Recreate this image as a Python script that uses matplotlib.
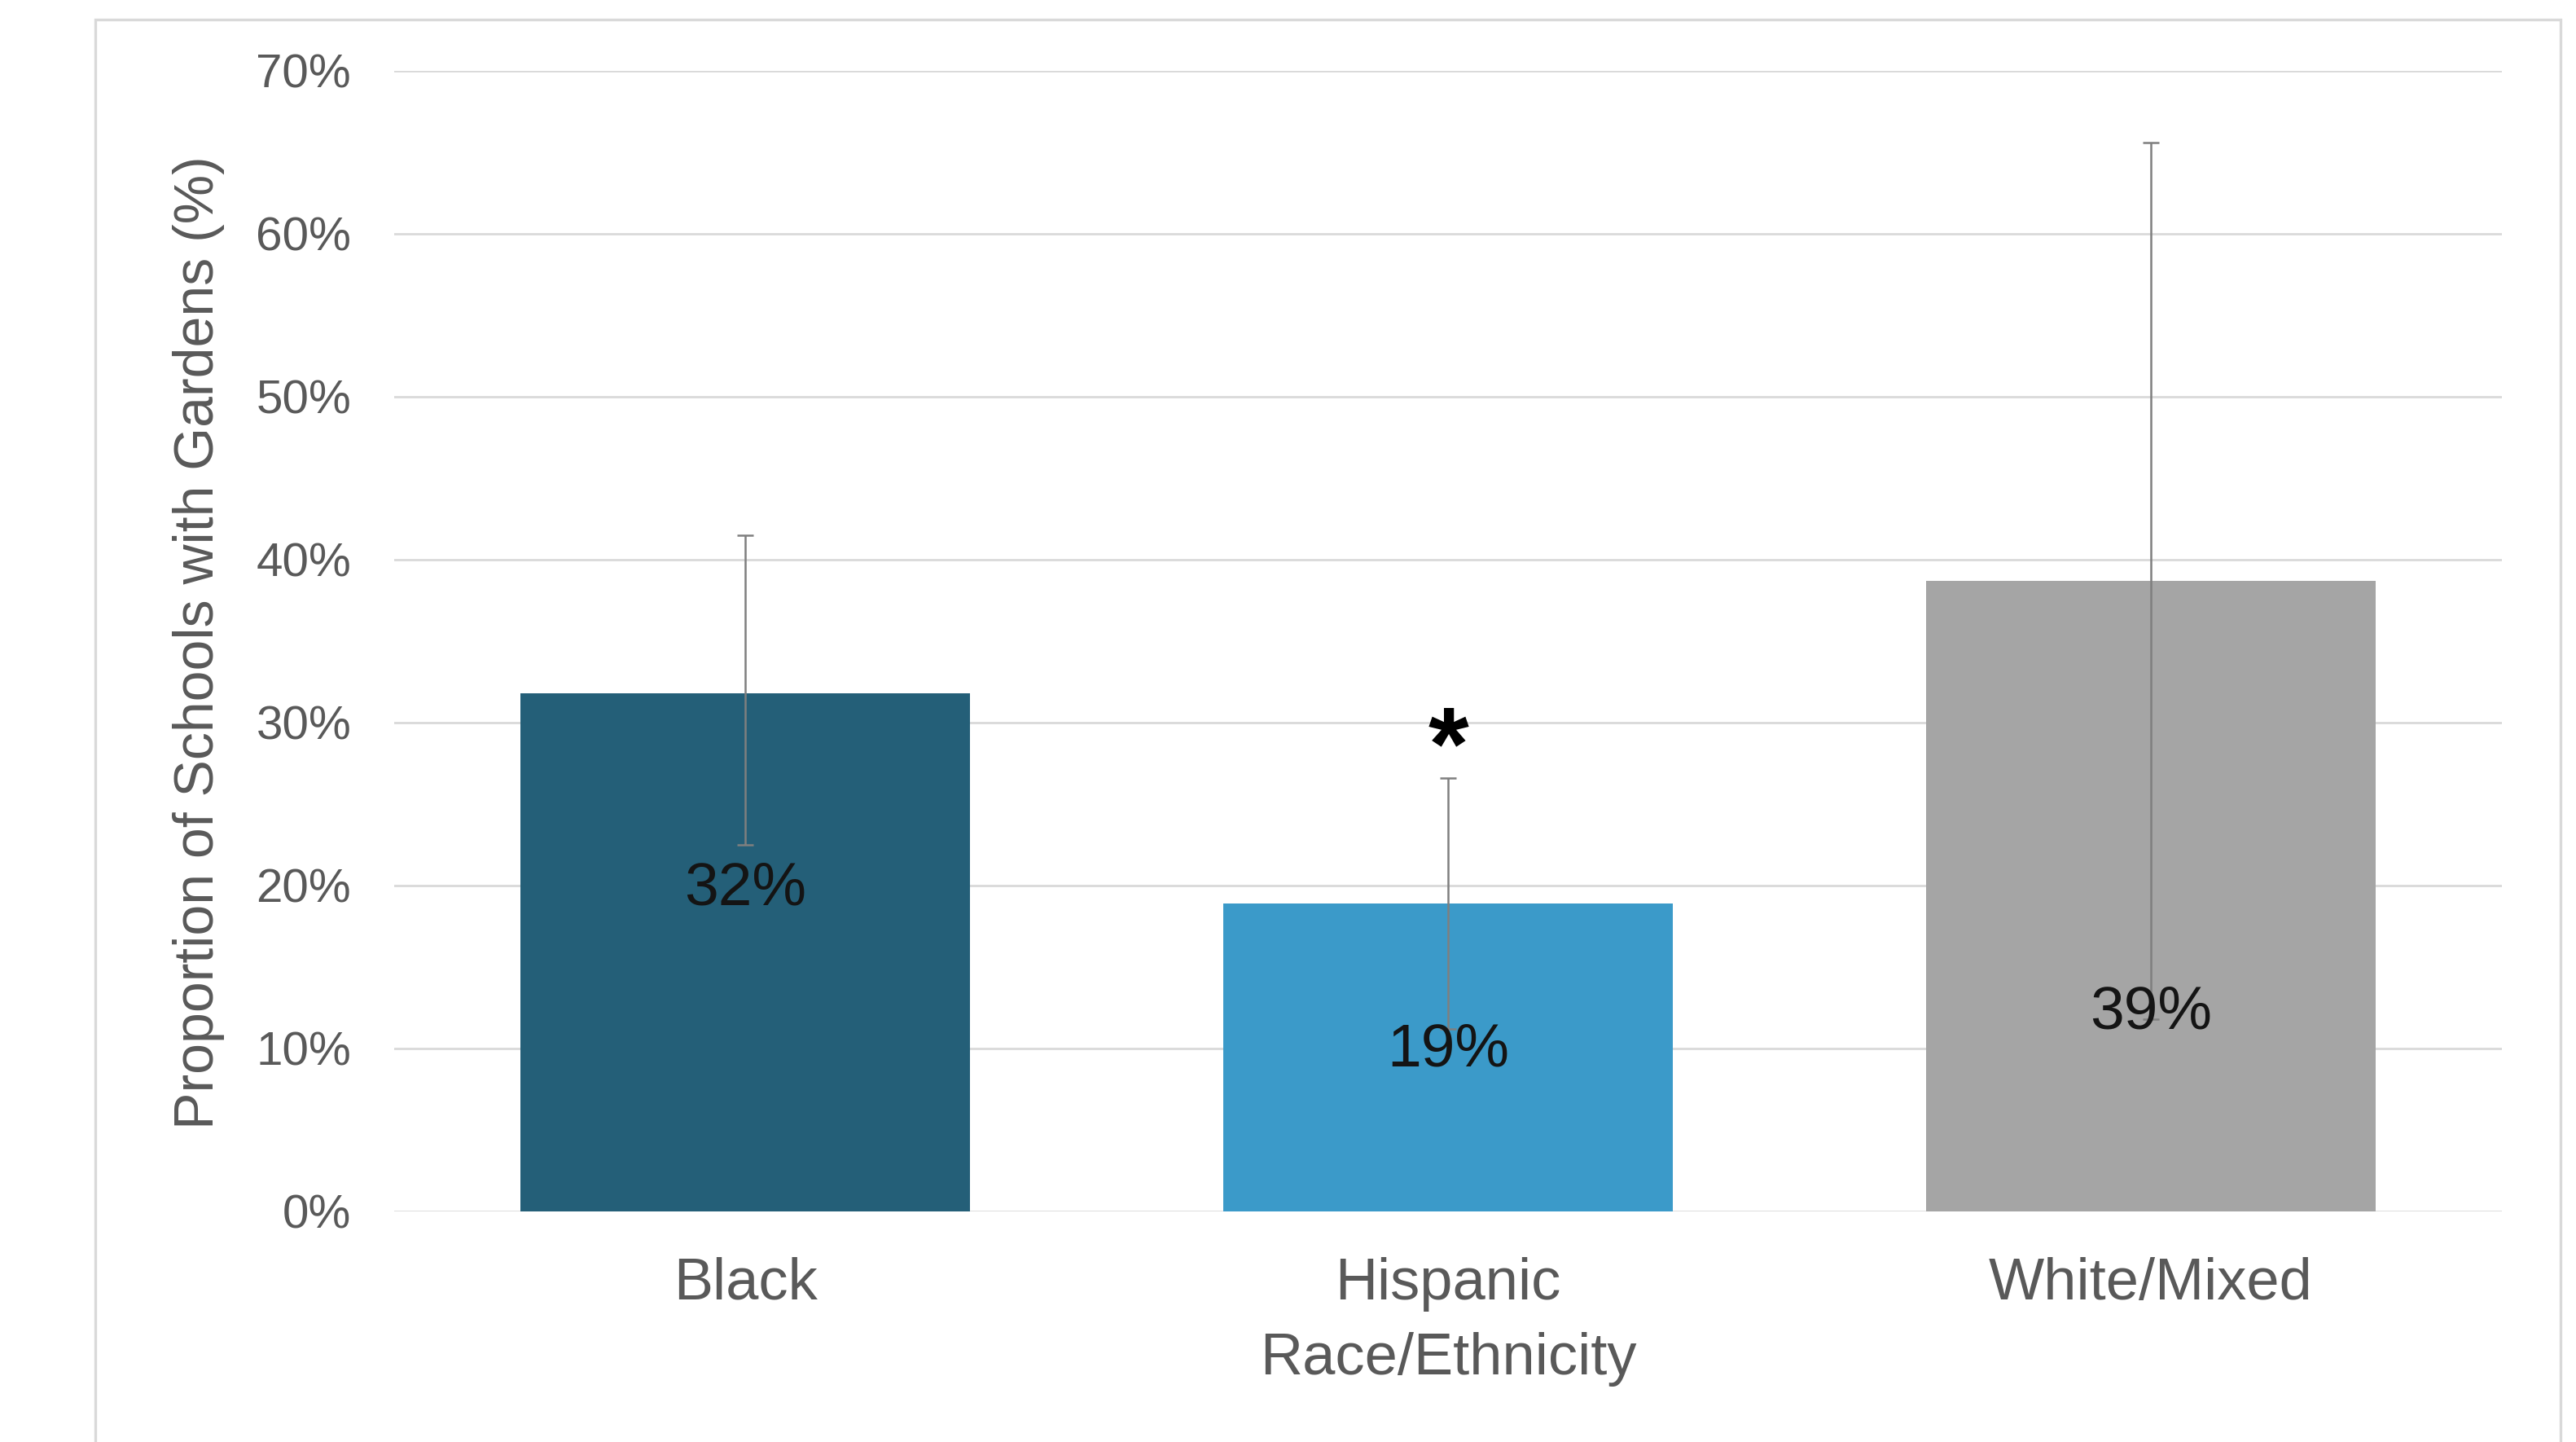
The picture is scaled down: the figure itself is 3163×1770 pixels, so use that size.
import matplotlib
matplotlib.use("Agg")
import matplotlib.pyplot as plt
from matplotlib.patches import Rectangle
from matplotlib.ticker import FuncFormatter

plt.rcParams['font.family'] = ['Liberation Sans', 'DejaVu Sans']

# ---- data ----
categories = ["Black", "Hispanic", "White/Mixed"]
values = [31.8, 18.9, 38.7]
err_low = [9.3, 7.7, 26.9]
err_high = [9.7, 7.7, 26.9]
value_labels = ["32%", "19%", "39%"]
significant = [False, True, False]
yticks = [0, 10, 20, 30, 40, 50, 60, 70]
bar_colors = ["#245f78", "#3b9ac9", "#a5a5a5"]
ylabel = "Proportion of Schools with Gardens (%)"
xlabel = "Race/Ethnicity"

W, H, DPI = 3163, 1770, 200
fig = plt.figure(figsize=(W / DPI, H / DPI), dpi=DPI)
fig.patch.set_facecolor("white")

# outer frame (left, top, right edges; bottom runs off the image)
frame = Rectangle((117 / W, -0.05), (3144 - 117) / W, 1 - 24 / H + 0.05,
                  transform=fig.transFigure, fill=False,
                  edgecolor="#d9d9d9", linewidth=1.2, zorder=0)
fig.patches.append(frame)

ax = fig.add_axes([484 / W, 1 - 1487 / H, (3072 - 484) / W, (1487 - 87) / H])
ax.set_facecolor("none")

x = list(range(len(categories)))
ax.bar(x, values, width=0.64, color=bar_colors, zorder=2)
ax.errorbar(x, values, yerr=[err_low, err_high], fmt="none",
            ecolor="#7f7f7f", elinewidth=0.9, capsize=3.5, capthick=0.9, zorder=3)

# value labels
label_y = [19.8, 9.9, 12.2]
for xi, lab, ly in zip(x, value_labels, label_y):
    ax.text(xi, ly, lab, ha="center", va="center", fontsize=27,
            color="#141414", zorder=5)

# significance marker
for xi, sig, v, eh in zip(x, significant, values, err_high):
    if sig:
        ax.text(xi, v + eh + 1.6, "*", ha="center", va="center",
                fontsize=46, fontweight="bold", color="black", zorder=5)

ax.set_xlim(-0.5, 2.5)
ax.set_ylim(0, 70)
ax.set_yticks(yticks)
ax.yaxis.set_major_formatter(FuncFormatter(lambda v, p: f"{int(v)}%"))
ax.grid(axis="y", color="#d9d9d9", linewidth=1.0, zorder=0)
ax.set_axisbelow(True)
for s in ax.spines.values():
    s.set_visible(False)
ax.tick_params(axis="both", length=0)
ax.tick_params(axis="y", labelsize=21, labelcolor="#595959", pad=19)
ax.set_xticks(x)
ax.set_xticklabels(categories, fontsize=26, color="#595959")
ax.tick_params(axis="x", pad=20)

ax.set_xlabel(xlabel, fontsize=26, color="#595959")
ax.xaxis.set_label_coords(0.5, -0.106)

fig.text(244 / W, 1 - 789 / H, ylabel, rotation=90, ha="center", va="center",
         fontsize=24.5, color="#595959")

fig.savefig("out.png", dpi=DPI, facecolor="white")
